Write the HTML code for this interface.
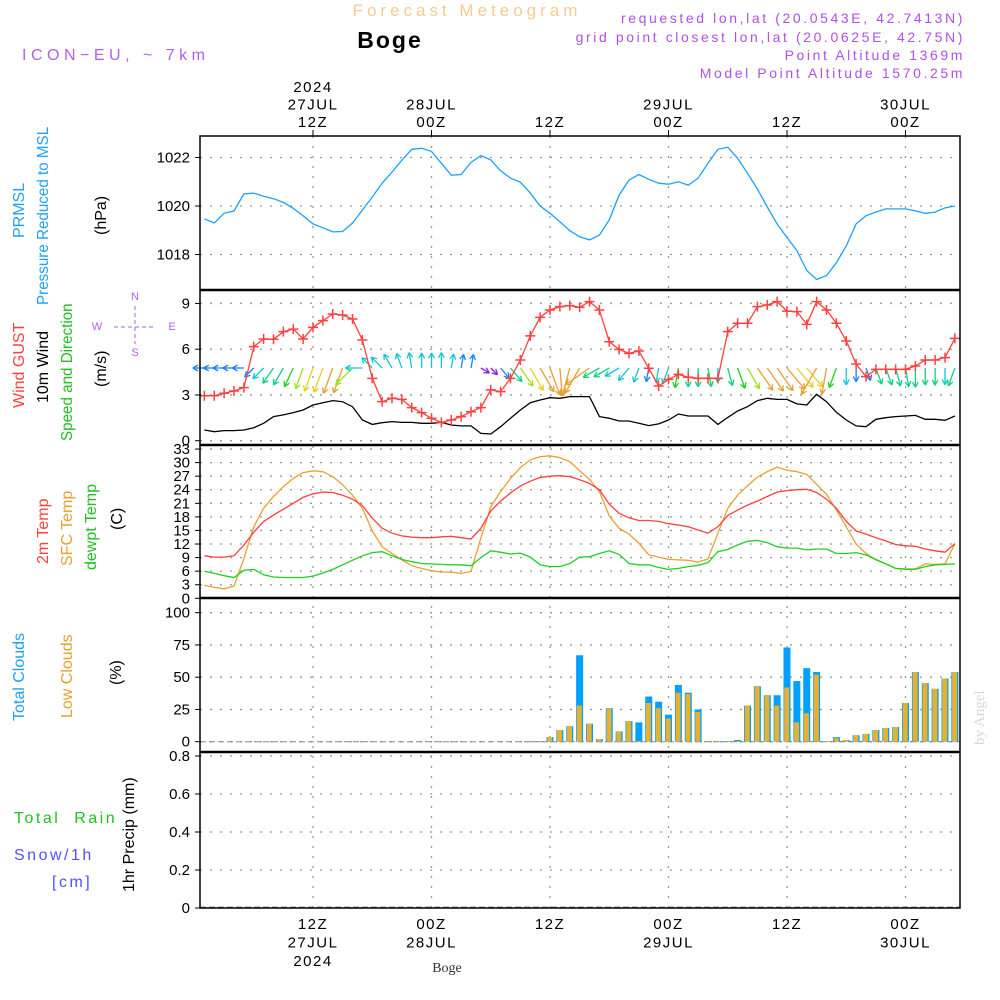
<!DOCTYPE html>
<html><head><meta charset="utf-8">
<style>
body{margin:0;background:#fff;}
svg{display:block;font-family:"Liberation Sans",sans-serif;}
</style></head>
<body>
<svg id="chart" width="1000" height="1000" viewBox="0 0 1000 1000" xmlns="http://www.w3.org/2000/svg">
<rect x="0" y="0" width="1000" height="1000" fill="#fff"/>
<text x="467" y="16" text-anchor="middle" font-size="17" letter-spacing="4" fill="#f5cc90">Forecast Meteogram</text>
<text x="390" y="48" text-anchor="middle" font-size="23" font-weight="bold" letter-spacing="2" fill="#000">Boge</text>
<text x="22" y="60" font-size="16" letter-spacing="4.5" fill="#b060f0">ICON−EU, ~ 7km</text>
<g font-size="14" letter-spacing="2.6" fill="#b050e8" text-anchor="end">
<text x="965" y="23">requested lon,lat (20.0543E, 42.7413N)</text>
<text x="965" y="42">grid point closest lon,lat (20.0625E, 42.75N)</text>
<text x="965" y="60">Point Altitude 1369m</text>
<text x="965" y="78">Model Point Altitude 1570.25m</text>
</g>
<g id="grid"></g>
<g id="marks"></g>
<g id="frame"></g>
<g id="labels" font-size="15" fill="#000"></g>
<g font-size="16">
<text transform="translate(24,238) rotate(-90)" fill="#1ea0ff">PRMSL</text>
<text transform="translate(48,305) rotate(-90) scale(0.95,1)" fill="#1ea0ff">Pressure Reduced to MSL</text>
<text transform="translate(106,235) rotate(-90)" fill="#000">(hPa)</text>
<text transform="translate(24,408) rotate(-90)" fill="#ff4040">Wind GUST</text>
<text transform="translate(48,403) rotate(-90)" fill="#000">10m Wind</text>
<text transform="translate(72,441) rotate(-90) scale(0.95,1)" fill="#20c020">Speed and Direction</text>
<text transform="translate(106,387) rotate(-90)" fill="#000">(m/s)</text>
<text transform="translate(48,564) rotate(-90)" fill="#ff4040">2m Temp</text>
<text transform="translate(72,566) rotate(-90)" fill="#e8a030">SFC Temp</text>
<text transform="translate(96,570) rotate(-90)" fill="#20c020">dewpt Temp</text>
<text transform="translate(122,530) rotate(-90)" fill="#000">(C)</text>
<text transform="translate(24,721) rotate(-90)" fill="#1ea0ff">Total Clouds</text>
<text transform="translate(72,718) rotate(-90)" fill="#e8a030">Low Clouds</text>
<text transform="translate(121,685) rotate(-90)" fill="#000">(%)</text>
<text transform="translate(134,892) rotate(-90)" fill="#000">1hr Precip (mm)</text>
<text x="14" y="823" fill="#20c020" letter-spacing="2.5" xml:space="preserve">Total  Rain</text>
<text x="14" y="860" fill="#5050ff" letter-spacing="2.5">Snow/1h</text>
<text x="52" y="887" fill="#5050ff" letter-spacing="2.5">[cm]</text>
</g>
<g fill="#b060f0" stroke="#b060f0" font-size="11" text-anchor="middle">
<text x="135" y="300" stroke="none">N</text>
<text x="135" y="356" stroke="none">S</text>
<text x="97" y="330" stroke="none">W</text>
<text x="172" y="330" stroke="none">E</text>
<line x1="135" y1="306" x2="135" y2="344" stroke-dasharray="4,3"/>
<line x1="114" y1="327" x2="156" y2="327" stroke-dasharray="4,3"/>
</g>
<text transform="translate(984,745) rotate(-90)" font-family="Liberation Serif" font-size="15" fill="#d8d8d8">by Angel</text>
<text x="447" y="972" text-anchor="middle" font-family="Liberation Serif" font-size="14" fill="#333">Boge</text>
</svg>
<script>
const pressure=[1019.47,1019.3,1019.7,1019.8,1020.5,1020.53,1020.4,1020.3,1020.15,1019.9,1019.6,1019.26,1019.1,1018.93,1018.95,1019.3,1019.83,1020.37,1020.94,1021.4,1021.89,1022.34,1022.38,1022.25,1021.76,1021.27,1021.3,1021.8,1022.08,1021.9,1021.45,1021.15,1020.98,1020.53,1020.0,1019.7,1019.35,1018.98,1018.73,1018.6,1018.8,1019.43,1020.45,1021.07,1021.3,1021.1,1020.94,1020.9,1021.0,1020.86,1021.15,1021.76,1022.34,1022.42,1021.97,1021.35,1020.7,1019.96,1019.26,1018.7,1018.16,1017.34,1016.97,1017.13,1017.66,1018.36,1019.26,1019.6,1019.75,1019.88,1019.88,1019.88,1019.8,1019.7,1019.75,1019.92,1020.0];
const windSpeed=[0.70,0.59,0.66,0.66,0.70,0.85,1.14,1.58,1.69,1.84,2.01,2.34,2.49,2.63,2.56,2.23,1.36,1.07,1.18,1.25,1.20,1.20,1.14,1.14,1.20,1.03,0.97,0.97,0.48,0.44,0.92,1.47,2.01,2.49,2.67,2.82,2.78,2.89,2.89,2.89,1.58,1.47,1.29,1.29,1.14,0.99,1.10,1.36,1.75,1.62,1.62,1.62,1.07,1.53,1.95,2.23,2.63,2.78,2.71,2.71,2.41,2.34,3.04,2.56,1.86,1.36,0.97,0.92,1.40,1.51,1.58,1.62,1.66,1.40,1.40,1.34,1.62];
const windGust=[2.95,2.95,3.11,3.26,3.48,6.17,6.67,6.65,7.15,7.32,6.67,7.43,7.87,8.31,8.24,7.98,6.60,4.09,2.56,2.78,2.71,2.17,1.84,1.47,1.20,1.36,1.58,1.90,2.17,3.33,3.22,4.09,5.29,6.87,8.09,8.57,8.79,8.86,8.75,9.12,8.57,6.49,5.99,5.73,5.88,4.75,3.59,4.02,4.35,4.16,4.09,4.09,4.09,7.15,7.70,7.70,8.79,8.90,9.12,8.50,8.46,7.63,9.12,8.57,7.70,6.54,5.03,4.20,4.68,4.68,4.68,4.68,4.90,5.29,5.29,5.45,6.71];
const windDir=[270,270,270,270,270,225,225,215,210,205,200,200,200,200,200,225,270,315,315,330,340,350,0,0,0,10,10,10,120,135,140,140,145,150,150,160,175,195,210,235,240,240,240,220,200,190,190,200,190,180,180,170,180,165,160,150,145,145,145,140,140,140,210,190,200,180,180,160,160,160,165,170,180,180,180,180,200];
const temp2m=[9.4,9.1,9.1,9.4,11.8,14.6,17.0,18.4,19.7,21.0,22.3,23.1,23.5,23.4,22.8,21.9,20.5,17.7,15.5,14.4,13.8,13.5,13.4,13.4,13.6,13.7,13.4,13.1,15.5,19.3,21.5,23.3,24.8,25.9,26.7,27.0,27.1,26.9,26.2,25.4,24.0,20.8,18.8,17.8,17.2,17.2,17.0,16.5,16.2,15.8,15.1,14.4,15.8,18.3,19.5,20.6,21.5,22.5,23.5,23.8,24.0,24.1,23.4,21.9,19.9,17.0,14.9,14.2,13.4,12.7,11.9,11.6,11.5,10.9,10.5,10.2,12.1];
const tempSfc=[2.9,2.4,2.1,2.7,8.8,15.8,19.9,22.5,24.7,26.5,27.8,28.2,28.0,26.9,25.1,22.8,19.9,14.9,11.4,9.9,8.5,7.2,6.6,6.1,5.8,5.8,5.5,5.9,13.3,20.3,23.6,26.5,28.9,30.6,31.3,31.5,31.1,30.2,28.2,26.3,23.6,18.2,15.5,14.2,12.2,9.6,9.1,8.6,8.5,8.4,8.0,8.7,14.4,19.9,22.8,24.9,26.8,28.0,29.0,28.3,28.0,27.4,25.2,23.0,19.5,15.8,12.0,9.9,8.5,7.6,6.6,6.5,6.5,7.6,7.5,7.6,12.1];
const dewpoint=[6.0,5.5,5.0,4.6,6.2,6.4,5.2,4.7,4.6,4.6,4.6,4.9,5.6,6.4,7.4,8.4,9.4,10.1,10.3,9.4,8.6,8.1,7.7,7.6,7.5,7.4,7.4,7.2,9.0,10.5,10.2,9.8,10.0,9.1,7.4,7.0,7.0,7.7,9.1,9.2,9.9,10.5,9.7,7.7,7.4,7.4,6.8,6.4,6.6,7.0,7.3,7.9,10.3,10.8,11.8,12.6,12.8,12.3,11.4,11.1,11.1,10.7,10.9,10.9,9.9,9.9,10.1,9.6,8.6,7.6,6.6,6.4,6.4,7.0,7.4,7.5,7.6];
const totalClouds=[0,0,0,0,0,0,0,0,0,0,0,0,0,0,0,0,0,0,0,0,0,0,0,0,0,0,0,0,0,0,0,0,0,0.5,0.5,3.6,9,12,67,14,2,26,8,16,15,35,31,21,44,38,25,0.5,0.5,0.5,1.3,28,43,36,36,73,47,57,54,0.5,3.6,1.3,5,6,9,10.6,11.4,30,54,45.5,41,49,54];
const lowClouds=[0,0,0,0,0,0,0,0,0,0,0,0,0,0,0,0,0,0,0,0,0,0,0,0,0,0,0,0,0,0,0,0,0,0.5,0.5,3.6,9,12,28,14,2,26,8,16,0.5,30,26,18,38,37,23,0.5,0.5,0.5,0.5,28,43,36,28,42,15,22,52,0.5,3,1.3,5,6,9,10.6,11.4,30,54,45.5,41,49,54];
const precip=[];
const hours=[];for(let i=1;i<=77;i++)hours.push(i);
const pTicks=[1018,1020,1022];
const wTicks=[0,3,6,9];
const tTicks=[0,3,6,9,12,15,18,21,24,27,30,33];
const cTicks=[0,25,50,75,100];
const rTicks=[0,0.2,0.4,0.6,0.8];
const timeTicks=[{h:12,top:["2024","27JUL","12Z"],bot:["12Z","27JUL","2024"]},{h:24,top:["28JUL","00Z"],bot:["00Z","28JUL"]},{h:36,top:["12Z"],bot:["12Z"]},{h:48,top:["29JUL","00Z"],bot:["00Z","29JUL"]},{h:60,top:["12Z"],bot:["12Z"]},{h:72,top:["30JUL","00Z"],bot:["00Z","30JUL"]}];

const NS="http://www.w3.org/2000/svg";
const X0=200,X1=960;
const xOf=h=>194.5+9.875*h;
const yP=p=>206-(p-1020)*24.25;
const yW=v=>440.7-15.25*v;
const yT=t=>598.3-4.523*t;
const yC=c=>741.7-1.29*c;
const yR=r=>908-190*r;
function mk(tag,attrs,parent){const e=document.createElementNS(NS,tag);for(const k in attrs)e.setAttribute(k,attrs[k]);parent.appendChild(e);return e;}
const grid=document.getElementById('grid'),marks=document.getElementById('marks'),frame=document.getElementById('frame'),labels=document.getElementById('labels');
const dot={stroke:"#999","stroke-width":1.3,"stroke-dasharray":"2,8"};
timeTicks.forEach(t=>{const x=xOf(t.h);
 const l=mk('line',Object.assign({x1:x,y1:136,x2:x,y2:908},dot),grid);
 
 
 const tk=mk('line',{x1:x,y1:130,x2:x,y2:136,stroke:"#000"},frame);
 
 
 t.top.forEach((s,i)=>{const tx=mk('text',{x:x,y:127-(t.top.length-1-i)*17.5,"text-anchor":"middle","letter-spacing":"1.5"},labels);tx.textContent=s;
  
  });
 t.bot.forEach((s,i)=>{const tx=mk('text',{x:x,y:929+i*18.5,"text-anchor":"middle","letter-spacing":"1.5"},labels);tx.textContent=s;
  
  });
});
function hgrid(ticks,fy,gridOn,name){ticks.forEach(v=>{const y=fy(v);
 if(gridOn){const l=mk('line',Object.assign({x1:X0,y1:y,x2:X1,y2:y},dot),grid);
  
  }
 const tk=mk('line',{x1:X0-5,y1:y,x2:X0,y2:y,stroke:"#000"},frame);
 
 
 const t=mk('text',{x:X0-10,y:y+5,"text-anchor":"end"},labels);t.textContent=String(v);
 
 });}
hgrid(pTicks,yP,true,'pressure');
hgrid(wTicks,yW,true,'wind');
hgrid(tTicks,yT,true,'temp');
hgrid(cTicks,yC,true,'cloud');
hgrid(rTicks,yR,true,'precip');
[[yC(0)],[yR(0)-1]].forEach(a=>{const l=mk('line',{x1:X0,y1:a[0],x2:X1,y2:a[0],stroke:"#888","stroke-dasharray":"6,3"},grid);
 
 });
function line(vals,fy,color,name,w){const pts=vals.map((v,i)=>xOf(hours[i]).toFixed(1)+","+fy(v).toFixed(1)).join(" ");
 const p=mk('polyline',{points:pts,fill:"none",stroke:color,"stroke-width":w||1.3},marks);
 
 }
line(pressure,yP,"#1ea0ff","pressure-line");
totalClouds.forEach((v,i)=>{if(v<=0)return;const x=xOf(hours[i]);
 const r=mk('rect',{x:x-3.5,y:yC(v),width:7,height:yC(0)-yC(v),fill:"#00a0ff"},marks);
 
 });
lowClouds.forEach((v,i)=>{if(v<=0)return;const x=xOf(hours[i]);
 const r=mk('rect',{x:x-2.8,y:yC(v),width:5,height:yC(0)-yC(v),fill:"#e8b030"},marks);
 
 });
function wcol(s){if(s<0.55)return"#8a20e0";if(s<1.0)return"#1e80ff";if(s<1.4)return"#10c8d0";if(s<1.7)return"#10d080";if(s<2.0)return"#20d020";if(s<2.3)return"#a0e020";if(s<2.55)return"#e8d020";return"#e8a030";}
windDir.forEach((d,i)=>{const x=xOf(hours[i]),y=368,s=windSpeed[i],L=6+8*s,c=wcol(s);
 const a=d*Math.PI/180,dx=Math.sin(a),dy=-Math.cos(a);const hx=x+dx*L,hy=y+dy*L;
 const g=mk('g',{stroke:c,"stroke-width":1.3,fill:"none"},marks);
 
 
 mk('line',{x1:x,y1:y,x2:hx,y2:hy},g);
 [0.5,-0.5].forEach(o=>{const b=a+Math.PI+o;mk('line',{x1:hx,y1:hy,x2:hx+Math.sin(b)*6,y2:hy-Math.cos(b)*6},g);});
});
line(windSpeed,yW,"#000","wind-speed-line");
line(windGust,yW,"#ff4040","wind-gust-line");
windGust.forEach((v,i)=>{const x=xOf(hours[i]),y=yW(v);
 const p=mk('path',{d:`M${x-5},${y}H${x+5}M${x},${y-5}V${y+5}`,stroke:"#ff4040","stroke-width":1.5},marks);
 
 });
line(tempSfc,yT,"#e8a030","sfc-temp-line");
line(temp2m,yT,"#ff4040","temp-2m-line");
line(dewpoint,yT,"#20d020","dewpoint-line");
const fr=mk('rect',{x:X0,y:136,width:X1-X0,height:908-136,fill:"none",stroke:"#000","stroke-width":1.5},frame);


[290,445,598,752].forEach(y=>{const l=mk('line',{x1:X0,y1:y,x2:X1,y2:y,stroke:"#000","stroke-width":2.5},frame);
 
 });
</script>
</body></html>
